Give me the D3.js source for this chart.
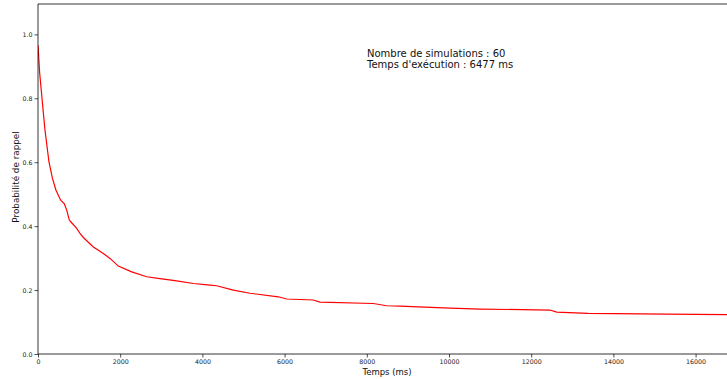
<!DOCTYPE html>
<html>
<head>
<meta charset="utf-8">
<script src="https://cdn.jsdelivr.net/npm/d3@7"></script>
<style>
  body { margin: 0; background: #fff; }
  svg { display: block; font-family: "DejaVu Sans", sans-serif; }
</style>
</head>
<body>
<svg id="chart"></svg>
<script>
// curve: time (ms) and recall probability
var times = [0, 40, 97, 170, 268, 350, 438, 552, 640, 698, 762, 803, 941, 1022, 1103, 1346, 1590, 1752, 1954,
  2280, 2645, 2968, 3374, 3780, 4185, 4347, 4752, 5158, 5847, 6050, 6700, 6861, 8159, 8483, 8808,
  9862, 10754, 12457, 12620, 13382, 15296, 16764];
var probs = [0.966, 0.88, 0.80, 0.70, 0.60, 0.55, 0.5125, 0.481, 0.47, 0.45, 0.419, 0.413, 0.393, 0.377, 0.3645, 0.335, 0.3145, 0.299, 0.275,
  0.257, 0.2416, 0.236, 0.229, 0.2206, 0.2156, 0.2135, 0.20, 0.19, 0.179, 0.172, 0.169, 0.1625, 0.158, 0.151, 0.15,
  0.144, 0.1406, 0.1375, 0.131, 0.127, 0.125, 0.123];

var xTicks = [0, 2000, 4000, 6000, 8000, 10000, 12000, 14000, 16000];
var yTicks = [0.0, 0.2, 0.4, 0.6, 0.8, 1.0];
var infoLines = ["Nombre de simulations : 60", "Temps d'exécution : 6477 ms"];

function plot() {
  var W = 727, H = 379;
  var mLeft = 38, mTop = 4, mBottom = 354;

  var svg = d3.select("#chart").attr("width", W).attr("height", H);

  var xscale = d3.scaleLinear().domain([0, 16764]).range([mLeft, W]);
  var yscale = d3.scaleLinear().domain([0, 1.095]).range([mBottom, mTop]);

  // clip for the curve
  svg.append("clipPath").attr("id", "plotclip")
    .append("rect").attr("x", mLeft).attr("y", mTop).attr("width", W - mLeft).attr("height", mBottom - mTop);

  var pts = times.map(function(t, i) { return [t, probs[i]]; });
  var line = d3.line()
    .x(function(d) { return xscale(d[0]); })
    .y(function(d) { return yscale(d[1]); });

  svg.append("path")
    .datum(pts)
    .attr("clip-path", "url(#plotclip)")
    .attr("fill", "none")
    .attr("stroke", "#ff0000")
    .attr("stroke-width", 1.2)
    .attr("d", line);

  // axes
  var xaxis = d3.axisBottom(xscale).tickValues(xTicks).tickSize(3.5).tickPadding(2).tickFormat(d3.format("d"));
  var yaxis = d3.axisLeft(yscale).tickValues(yTicks).tickSize(3.5).tickPadding(2).tickFormat(d3.format(".1f"));

  var gx = svg.append("g").attr("transform", "translate(0," + mBottom + ")").call(xaxis);
  var gy = svg.append("g").attr("transform", "translate(" + mLeft + ",0)").call(yaxis);

  [gx, gy].forEach(function(g) {
    g.select(".domain").remove();
    g.selectAll(".tick line").attr("stroke", "#222").attr("stroke-width", 0.8);
    g.selectAll(".tick text").attr("fill", "#222")
      .style("font-size", "6.3px").style("font-family", "DejaVu Sans");
  });

  // spines
  svg.append("line").attr("x1", mLeft).attr("x2", mLeft).attr("y1", mTop).attr("y2", mBottom)
    .attr("stroke", "#000").attr("stroke-width", 0.8);
  svg.append("line").attr("x1", mLeft).attr("x2", W).attr("y1", mBottom).attr("y2", mBottom)
    .attr("stroke", "#000").attr("stroke-width", 0.8);
  svg.append("line").attr("x1", mLeft).attr("x2", W).attr("y1", mTop).attr("y2", mTop)
    .attr("stroke", "#000").attr("stroke-width", 0.8);

  // axis labels
  svg.append("text")
    .attr("x", 387).attr("y", 375)
    .attr("text-anchor", "middle")
    .style("font-size", "8.5px")
    .attr("fill", "#111")
    .text("Temps (ms)");

  svg.append("text")
    .attr("transform", "translate(19,177) rotate(-90)")
    .attr("text-anchor", "middle")
    .style("font-size", "8.8px")
    .attr("fill", "#111")
    .text("Probabilité de rappel");

  // info text
  svg.selectAll(".info").data(infoLines).enter().append("text")
    .attr("class", "info")
    .attr("x", 367)
    .attr("y", function(d, i) { return 56.5 + i * 11.5; })
    .style("font-size", "10px")
    .attr("fill", "#111")
    .text(function(d) { return d; });
}

plot();
</script>
</body>
</html>
